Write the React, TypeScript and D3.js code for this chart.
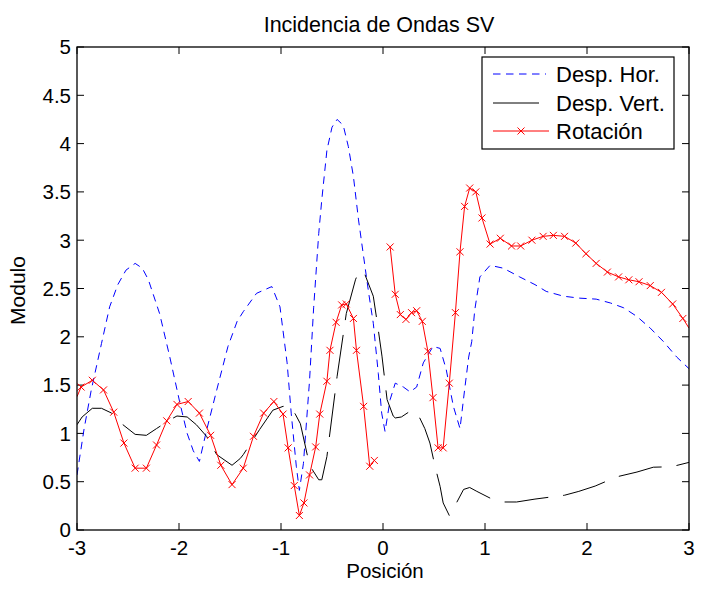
import React from "react";
import * as d3 from "d3";

// ---- data ----
const xTicks = [-3, -2, -1, 0, 1, 2, 3];
const yTicks = [0, 0.5, 1, 1.5, 2, 2.5, 3, 3.5, 4, 4.5, 5];
const yTickLabels = ["0", "0.5", "1", "1.5", "2", "2.5", "3", "3.5", "4", "4.5", "5"];
const seriesNames = ["Desp. Hor.", "Desp. Vert.", "Rotación"];

const despHor: [number, number][] = [
  [-3.0, 0.57], [-2.93, 1.05], [-2.86, 1.45], [-2.76, 1.93], [-2.68, 2.31], [-2.6, 2.54],
  [-2.52, 2.69], [-2.43, 2.76], [-2.36, 2.71], [-2.3, 2.59], [-2.19, 2.24], [-2.09, 1.79],
  [-1.99, 1.31], [-1.92, 1.0], [-1.86, 0.82], [-1.8, 0.71], [-1.73, 1.03], [-1.63, 1.45],
  [-1.52, 1.9], [-1.43, 2.16], [-1.37, 2.26], [-1.24, 2.45], [-1.09, 2.52], [-1.01, 2.31],
  [-0.94, 1.73], [-0.9, 1.21], [-0.85, 0.66], [-0.82, 0.41], [-0.78, 0.69], [-0.72, 1.55],
  [-0.68, 2.3], [-0.63, 3.07], [-0.6, 3.42], [-0.55, 3.93], [-0.5, 4.17], [-0.45, 4.25],
  [-0.39, 4.19], [-0.34, 3.97], [-0.29, 3.66], [-0.24, 3.21], [-0.19, 2.83], [-0.14, 2.45],
  [-0.095, 2.14], [-0.046, 1.62], [-0.013, 1.21], [0.02, 1.02], [0.07, 1.35], [0.12, 1.52],
  [0.2, 1.48], [0.265, 1.43], [0.33, 1.48], [0.395, 1.73], [0.49, 1.9], [0.56, 1.88],
  [0.62, 1.66], [0.69, 1.28], [0.755, 1.05], [0.8, 1.45], [0.84, 1.79], [0.87, 1.95],
  [0.9, 2.28], [0.95, 2.62], [1.05, 2.74], [1.18, 2.71], [1.34, 2.62], [1.49, 2.54],
  [1.6, 2.47], [1.77, 2.42], [1.93, 2.4], [2.09, 2.39], [2.23, 2.35], [2.36, 2.3],
  [2.49, 2.21], [2.62, 2.09], [2.75, 1.95], [2.88, 1.79], [3.0, 1.67],
];

const despVert: [number, number][] = [
  [-3.0, 1.09], [-2.95, 1.17], [-2.85, 1.26], [-2.76, 1.26], [-2.66, 1.21], [-2.55, 1.09],
  [-2.43, 0.99], [-2.32, 0.98], [-2.22, 1.05], [-2.09, 1.14], [-2.02, 1.18], [-1.92, 1.17],
  [-1.83, 1.09], [-1.73, 0.97], [-1.63, 0.78], [-1.48, 0.67], [-1.4, 0.74], [-1.37, 0.78],
  [-1.21, 1.04], [-1.08, 1.24], [-0.98, 1.28], [-0.91, 1.28], [-0.86, 1.2], [-0.81, 1.1],
  [-0.72, 0.67], [-0.63, 0.52], [-0.6, 0.52], [-0.55, 0.76], [-0.45, 1.59], [-0.36, 2.24],
  [-0.27, 2.59], [-0.24, 2.67], [-0.19, 2.68], [-0.095, 2.42], [-0.05, 2.1], [-0.01, 1.8],
  [0.04, 1.35], [0.1, 1.18], [0.12, 1.16], [0.18, 1.17], [0.28, 1.24], [0.36, 1.16],
  [0.41, 1.05], [0.46, 0.9], [0.51, 0.66], [0.56, 0.45], [0.59, 0.28], [0.65, 0.15],
  [0.72, 0.28], [0.79, 0.42], [0.85, 0.44], [0.92, 0.4], [1.05, 0.33], [1.18, 0.29],
  [1.31, 0.29], [1.49, 0.32], [1.78, 0.36], [1.92, 0.4], [2.08, 0.455], [2.29, 0.55],
  [2.49, 0.6], [2.65, 0.65], [2.83, 0.655], [3.0, 0.7],
];

const rotacionA: [number, number][] = [
  [-3.0, 1.38], [-2.96, 1.48], [-2.85, 1.55], [-2.74, 1.45], [-2.64, 1.22], [-2.54, 0.9],
  [-2.43, 0.64], [-2.32, 0.64], [-2.22, 0.88], [-2.12, 1.13], [-2.02, 1.3], [-1.91, 1.33],
  [-1.8, 1.21], [-1.69, 0.98], [-1.59, 0.67], [-1.48, 0.47], [-1.37, 0.64], [-1.27, 0.97],
  [-1.17, 1.21], [-1.07, 1.33], [-0.98, 1.2], [-0.93, 0.85], [-0.87, 0.46], [-0.82, 0.15],
  [-0.775, 0.28], [-0.72, 0.57], [-0.66, 0.86], [-0.62, 1.2], [-0.55, 1.54], [-0.52, 1.86],
  [-0.46, 2.15], [-0.405, 2.33], [-0.36, 2.34], [-0.29, 2.19], [-0.26, 1.86], [-0.19, 1.28],
  [-0.13, 0.66], [-0.085, 0.72],
];

const rotacionB: [number, number][] = [
  [0.07, 2.93], [0.12, 2.44], [0.17, 2.23], [0.225, 2.18], [0.28, 2.25], [0.33, 2.27],
  [0.385, 2.16], [0.44, 1.85], [0.49, 1.37], [0.54, 0.85], [0.59, 0.85], [0.65, 1.52],
  [0.71, 2.25], [0.755, 2.88], [0.8, 3.35], [0.85, 3.54], [0.91, 3.5], [0.97, 3.23],
  [1.05, 2.96], [1.15, 3.02], [1.26, 2.94], [1.35, 2.94], [1.46, 3.0], [1.57, 3.04],
  [1.67, 3.05], [1.78, 3.04], [1.89, 2.97], [1.99, 2.86], [2.09, 2.76], [2.2, 2.67],
  [2.31, 2.62], [2.41, 2.59], [2.51, 2.57], [2.62, 2.53], [2.73, 2.46], [2.84, 2.34],
  [2.94, 2.19], [3.0, 2.09],
];

// ---- layout ----
const W = 718, H = 590;
const L = 77, R = 689, T = 47, B = 530;
const FONT = "'Liberation Sans', Arial, Helvetica, sans-serif";

export default function App() {
  const x = d3.scaleLinear().domain([-3, 3]).range([L, R]);
  const y = d3.scaleLinear().domain([0, 5]).range([B, T]);
  const line = d3.line<[number, number]>().x((d) => x(d[0])).y((d) => y(d[1]));
  const tick = 7;
  const mk = 3.5;
  const markerPts = [...rotacionA, ...rotacionB].filter((d) => d[0] > -3 && d[0] < 3);

  const legX = 482, legY = 57, legW = 192, legH = 92;
  const rows = [74, 103, 131];

  return (
    <svg width={W} height={H} style={{ position: "absolute", left: 0, top: 0, display: "block" }}
      fontFamily={FONT}>
      <rect x={0} y={0} width={W} height={H} fill="#fff" />
      <defs>
        <clipPath id="plotclip">
          <rect x={L} y={T} width={R - L} height={B - T} />
        </clipPath>
      </defs>

      {/* title */}
      <text x={(L + R) / 2 - 4} y={32} fontSize={21.5} textAnchor="middle" fill="#000">
        Incidencia de Ondas SV
      </text>

      {/* ticks */}
      {xTicks.map((t) => (
        <g key={"xt" + t}>
          <line x1={x(t)} x2={x(t)} y1={B} y2={B - tick} stroke="#000" strokeWidth={1} />
          <line x1={x(t)} x2={x(t)} y1={T} y2={T + tick} stroke="#000" strokeWidth={1} />
          <text x={x(t)} y={555} fontSize={20.5} textAnchor="middle" fill="#000">{t}</text>
        </g>
      ))}
      {yTicks.map((t, i) => (
        <g key={"yt" + t}>
          <line x1={L} x2={L + tick} y1={y(t)} y2={y(t)} stroke="#000" strokeWidth={1} />
          <line x1={R} x2={R - tick} y1={y(t)} y2={y(t)} stroke="#000" strokeWidth={1} />
          <text x={71} y={y(t)} dy="0.36em" fontSize={20.5} textAnchor="end" fill="#000">
            {yTickLabels[i]}
          </text>
        </g>
      ))}

      {/* axis labels */}
      <text x={385} y={578} fontSize={20.5} textAnchor="middle" fill="#000">Posición</text>
      <text transform={`translate(25, ${(T + B) / 2 + 2}) rotate(-90)`} fontSize={21}
        textAnchor="middle" fill="#000">Modulo</text>

      {/* series */}
      <g clipPath="url(#plotclip)">
        <path d={line(despHor) || ""} fill="none" stroke="#0000ff" strokeWidth={1}
          strokeDasharray="7.5,5.5" />
        <path d={line(despVert) || ""} fill="none" stroke="#000" strokeWidth={1}
          strokeDasharray="44,15" />
        <path d={line(rotacionA) || ""} fill="none" stroke="#ff0000" strokeWidth={1} />
        <path d={line(rotacionB) || ""} fill="none" stroke="#ff0000" strokeWidth={1} />
        {markerPts.map((d, i) => (
          <path key={"m" + i}
            d={`M${x(d[0]) - mk},${y(d[1]) - mk}L${x(d[0]) + mk},${y(d[1]) + mk}M${x(d[0]) - mk},${y(d[1]) + mk}L${x(d[0]) + mk},${y(d[1]) - mk}`}
            stroke="#ff0000" strokeWidth={1} fill="none" />
        ))}
      </g>

      {/* box */}
      <rect x={L} y={T} width={R - L} height={B - T} fill="none" stroke="#000" strokeWidth={1.3} />

      {/* legend */}
      <rect x={legX} y={legY} width={legW} height={legH} fill="#fff" stroke="#000" strokeWidth={1.2} />
      <line x1={493} x2={546} y1={rows[0]} y2={rows[0]} stroke="#0000ff" strokeWidth={1}
        strokeDasharray="7.5,5.5" />
      <line x1={493} x2={539} y1={rows[1]} y2={rows[1]} stroke="#000" strokeWidth={1} />
      <line x1={493} x2={549} y1={rows[2]} y2={rows[2]} stroke="#ff0000" strokeWidth={1} />
      <path d={`M${521 - mk},${rows[2] - mk}L${521 + mk},${rows[2] + mk}M${521 - mk},${rows[2] + mk}L${521 + mk},${rows[2] - mk}`}
        stroke="#ff0000" strokeWidth={1} fill="none" />
      {seriesNames.map((n, i) => (
        <text key={n} x={556} y={rows[i]} dy="0.36em" fontSize={22} fill="#000">{n}</text>
      ))}
    </svg>
  );
}
